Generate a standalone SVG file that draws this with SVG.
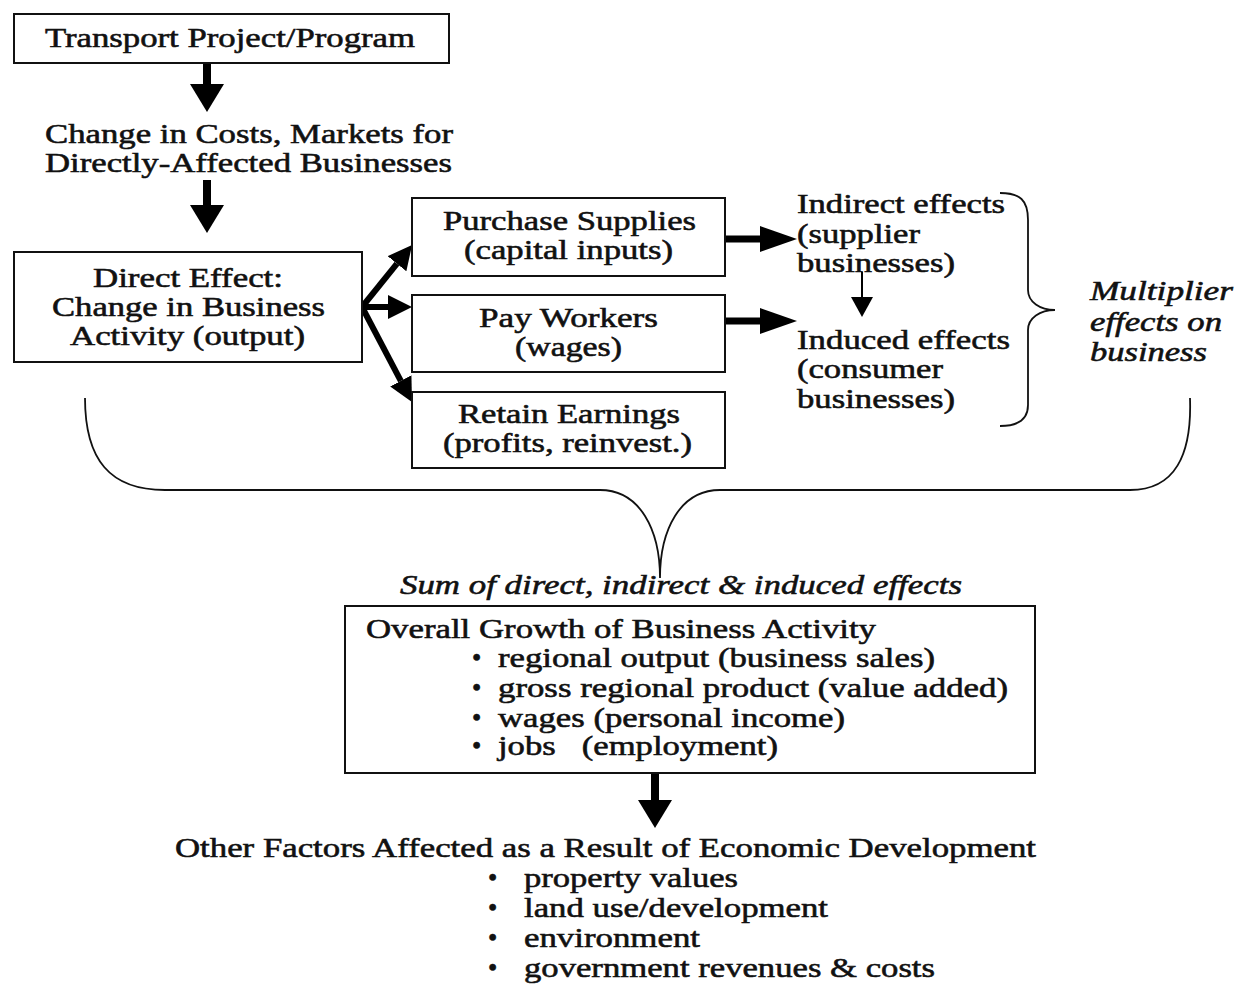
<svg xmlns="http://www.w3.org/2000/svg" width="1238" height="984" viewBox="0 0 1238 984">
<style>
text{font-family:"Liberation Serif","Times New Roman",serif;font-size:26.5px;fill:#111;stroke:#111;stroke-width:0.55}
.it{font-style:italic}
.box{fill:#fff;stroke:#111;stroke-width:2}
.brace{fill:none;stroke:#111;stroke-width:1.8}
.sh{stroke:#000;fill:none}
</style>
<defs>
<marker id="big" viewBox="0 0 28 34" refX="0" refY="17" markerWidth="28" markerHeight="34" markerUnits="userSpaceOnUse" orient="auto"><path d="M0,0 L28,17 L0,34 Z" fill="#000"/></marker>
<marker id="mid" viewBox="0 0 24 24" refX="0" refY="12" markerWidth="24" markerHeight="24" markerUnits="userSpaceOnUse" orient="auto"><path d="M0,0 L24,12 L0,24 Z" fill="#000"/></marker>
<marker id="side" viewBox="0 0 37 26" refX="0" refY="13" markerWidth="37" markerHeight="26" markerUnits="userSpaceOnUse" orient="auto"><path d="M0,0 L37,13 L0,26 Z" fill="#000"/></marker>
<marker id="small" viewBox="0 0 20 22" refX="0" refY="11" markerWidth="20" markerHeight="22" markerUnits="userSpaceOnUse" orient="auto"><path d="M0,0 L20,11 L0,22 Z" fill="#000"/></marker>
</defs>
<rect width="1238" height="984" fill="#fff"/>

<g id="connectors">
<line class="sh" x1="207" y1="63" x2="207" y2="84" stroke-width="8" marker-end="url(#big)"/>
<line class="sh" x1="207" y1="180" x2="207" y2="205" stroke-width="8" marker-end="url(#big)"/>
<line class="sh" x1="362" y1="307" x2="397" y2="263.7" stroke-width="6" marker-end="url(#mid)"/>
<line class="sh" x1="362" y1="307" x2="388" y2="307" stroke-width="6" marker-end="url(#mid)"/>
<line class="sh" x1="362" y1="307" x2="400.8" y2="380.8" stroke-width="6" marker-end="url(#mid)"/>
<line class="sh" x1="725" y1="239" x2="760" y2="239" stroke-width="7" marker-end="url(#side)"/>
<line class="sh" x1="725" y1="321" x2="760" y2="321" stroke-width="7" marker-end="url(#side)"/>
<line class="sh" x1="862" y1="272" x2="862" y2="297" stroke-width="2" marker-end="url(#small)"/>
<line class="sh" x1="655" y1="773" x2="655" y2="800" stroke-width="8" marker-end="url(#big)"/>
<path class="brace" d="M1000,193 C1020,193 1028,200 1028,220 L1028,290 C1028,302 1040,310 1055,310 C1040,310 1028,318 1028,330 L1028,405 C1028,420 1018,426 1000,426"/>
<path class="brace" d="M85,398 C85,460 110,490 165,490 L600,490 C640,490 660,530 660,578 C660,530 680,490 720,490 L1130,490 C1175,490 1192,455 1190,398"/>
</g>

<g id="transport">
<rect class="box" x="14" y="14" width="435" height="49"/>
<text x="45" y="47" textLength="370" lengthAdjust="spacingAndGlyphs">Transport Project/Program</text>
</g>

<g id="change-costs">
<text x="45" y="143" textLength="408" lengthAdjust="spacingAndGlyphs">Change in Costs, Markets for</text>
<text x="45" y="172" textLength="407" lengthAdjust="spacingAndGlyphs">Directly-Affected Businesses</text>
</g>

<g id="direct-effect">
<rect class="box" x="14" y="252" width="348" height="110"/>
<text x="93" y="287" textLength="190" lengthAdjust="spacingAndGlyphs">Direct Effect:</text>
<text x="52" y="316" textLength="273" lengthAdjust="spacingAndGlyphs">Change in Business</text>
<text x="70" y="345" textLength="235" lengthAdjust="spacingAndGlyphs">Activity (output)</text>
</g>

<g id="purchase-supplies">
<rect class="box" x="412" y="198" width="313" height="78"/>
<text x="443" y="230" textLength="253" lengthAdjust="spacingAndGlyphs">Purchase Supplies</text>
<text x="464" y="259" textLength="209" lengthAdjust="spacingAndGlyphs">(capital inputs)</text>
</g>

<g id="pay-workers">
<rect class="box" x="412" y="295" width="313" height="77"/>
<text x="479" y="327" textLength="179" lengthAdjust="spacingAndGlyphs">Pay Workers</text>
<text x="515" y="356" textLength="107" lengthAdjust="spacingAndGlyphs">(wages)</text>
</g>

<g id="retain-earnings">
<rect class="box" x="412" y="392" width="313" height="76"/>
<text x="458" y="423" textLength="222" lengthAdjust="spacingAndGlyphs">Retain Earnings</text>
<text x="443" y="452" textLength="249" lengthAdjust="spacingAndGlyphs">(profits, reinvest.)</text>
</g>

<g id="indirect-effects">
<text x="797" y="213" textLength="208" lengthAdjust="spacingAndGlyphs">Indirect effects</text>
<text x="797" y="243" textLength="123" lengthAdjust="spacingAndGlyphs">(supplier</text>
<text x="797" y="272" textLength="158" lengthAdjust="spacingAndGlyphs">businesses)</text>
</g>

<g id="induced-effects">
<text x="797" y="349" textLength="213" lengthAdjust="spacingAndGlyphs">Induced effects</text>
<text x="797" y="378" textLength="146" lengthAdjust="spacingAndGlyphs">(consumer</text>
<text x="797" y="408" textLength="158" lengthAdjust="spacingAndGlyphs">businesses)</text>
</g>

<g id="multiplier">
<text class="it" x="1090" y="300" textLength="143" lengthAdjust="spacingAndGlyphs">Multiplier</text>
<text class="it" x="1090" y="331" textLength="132" lengthAdjust="spacingAndGlyphs">effects on</text>
<text class="it" x="1090" y="361" textLength="117" lengthAdjust="spacingAndGlyphs">business</text>
</g>

<g id="sum-label">
<text class="it" x="400" y="594" textLength="562" lengthAdjust="spacingAndGlyphs">Sum of direct, indirect &amp; induced effects</text>
</g>

<g id="overall-growth">
<rect class="box" x="345" y="606" width="690" height="167"/>
<text x="366" y="638" textLength="510" lengthAdjust="spacingAndGlyphs">Overall Growth of Business Activity</text>
<text x="472" y="667">•</text>
<text x="498" y="667" textLength="437" lengthAdjust="spacingAndGlyphs">regional output (business sales)</text>
<text x="472" y="697">•</text>
<text x="498" y="697" textLength="510" lengthAdjust="spacingAndGlyphs">gross regional product (value added)</text>
<text x="472" y="727">•</text>
<text x="498" y="727" textLength="347" lengthAdjust="spacingAndGlyphs">wages (personal income)</text>
<text x="472" y="755">•</text>
<text x="498" y="755" textLength="280" lengthAdjust="spacingAndGlyphs" xml:space="preserve">jobs   (employment)</text>
</g>

<g id="other-factors">
<text x="175" y="857" textLength="861" lengthAdjust="spacingAndGlyphs">Other Factors Affected as a Result of Economic Development</text>
<text x="488" y="887">•</text>
<text x="524" y="887" textLength="214" lengthAdjust="spacingAndGlyphs">property values</text>
<text x="488" y="917">•</text>
<text x="524" y="917" textLength="304" lengthAdjust="spacingAndGlyphs">land use/development</text>
<text x="488" y="947">•</text>
<text x="524" y="947" textLength="176" lengthAdjust="spacingAndGlyphs">environment</text>
<text x="488" y="977">•</text>
<text x="524" y="977" textLength="411" lengthAdjust="spacingAndGlyphs">government revenues &amp; costs</text>
</g>
</svg>
